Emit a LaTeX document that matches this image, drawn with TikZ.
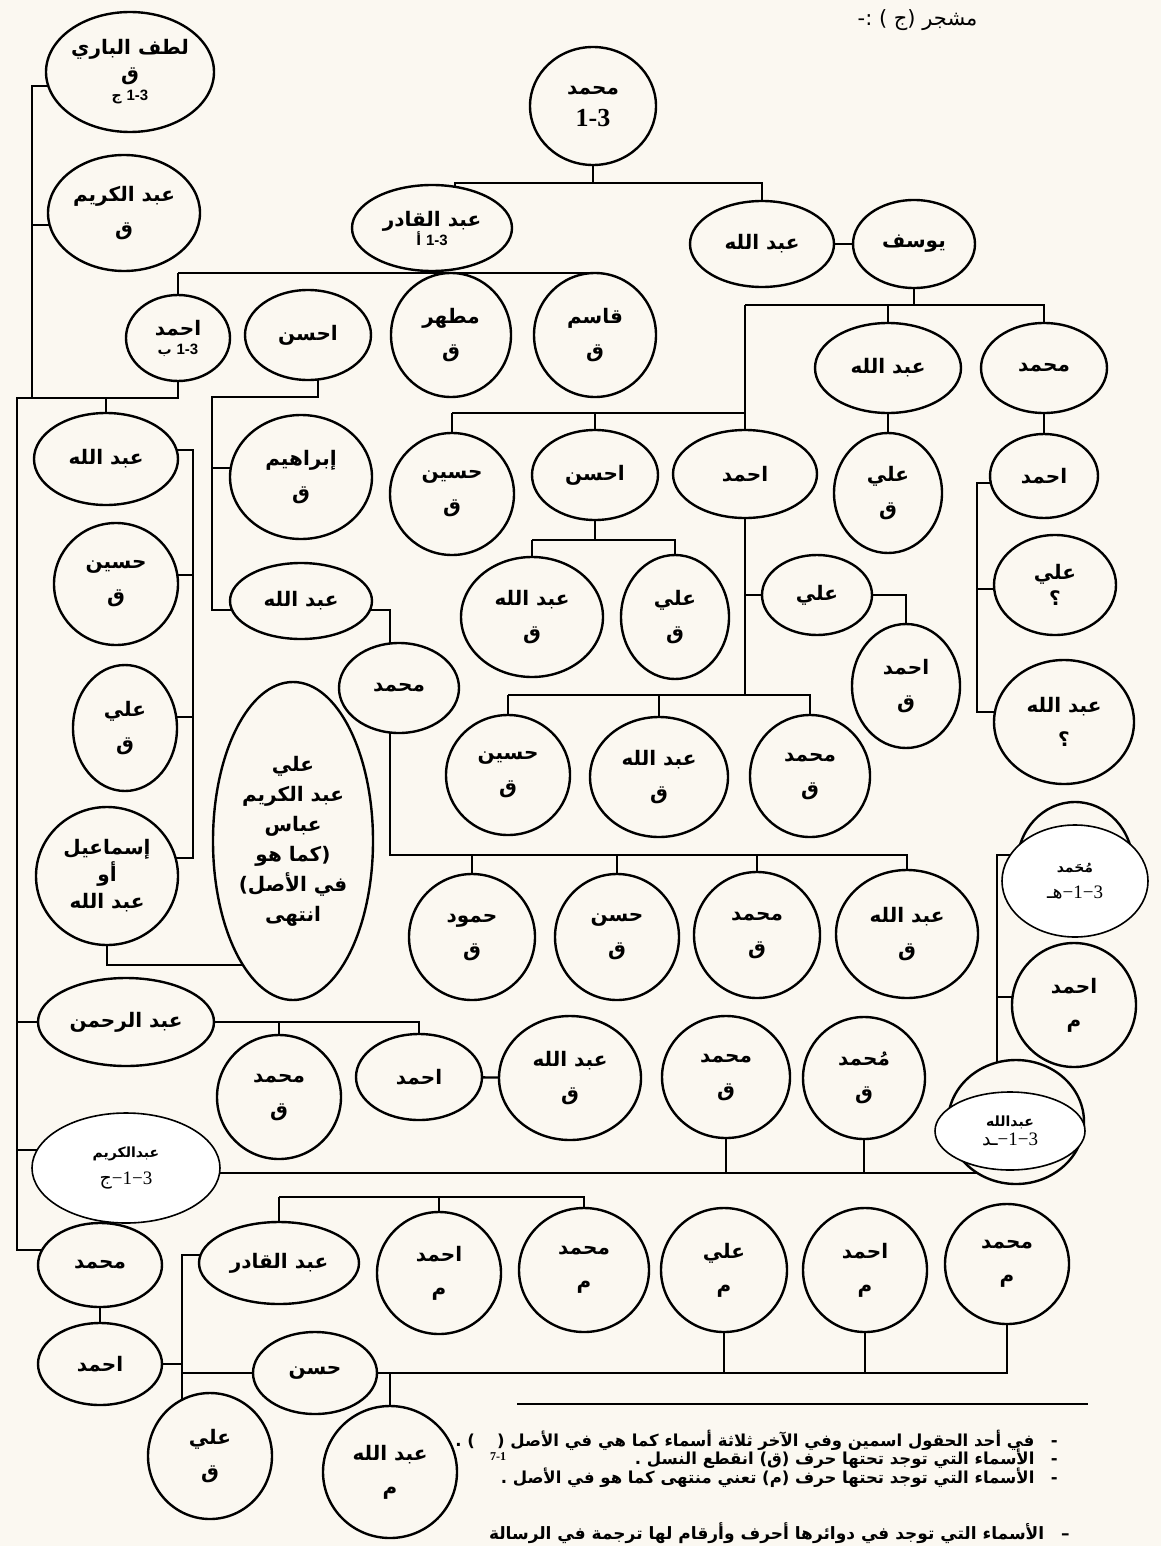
\documentclass[tikz,border=0pt]{standalone}
\usepackage{fontspec}
\setmainfont{Liberation Serif}
\newfontfamily\arb[Script=Arabic]{DejaVu Sans}
\newfontfamily\lsans{Liberation Sans}
\TeXXeTstate=1
\usetikzlibrary{shapes.geometric,backgrounds}
\definecolor{bg}{RGB}{251,248,241}
\newcommand\myR[1]{\beginR #1\endR}
\newcommand\nmfont{\arb\bfseries\fontsize{20}{34}\selectfont}
\newcommand\smfont{\arb\bfseries\fontsize{14}{15}\selectfont}
\newcommand\wfont{\arb\bfseries\fontsize{14}{16}\selectfont}
\newcommand\lgfont{\arb\bfseries\fontsize{16.5}{18}\selectfont}
\newcommand\lbl[2]{{\smfont\hbox{#2}\ \hbox{\lsans\bfseries\fontsize{15}{15}\selectfont #1}}}
\tikzset{
  nd/.style 2 args={draw, line width=2.4pt, ellipse, fill=bg, inner sep=0pt,
    minimum width={2*#1pt}, minimum height={2*#2pt}, font=\nmfont, align=center},
  wov/.style 2 args={draw, line width=1.6pt, ellipse, fill=white, inner sep=0pt,
    minimum width={2*#1pt}, minimum height={2*#2pt}, align=center},
  ln/.style={line width=2.4pt},
  under/.style={draw, line width=2.4pt, fill=bg},
  lgnd/.style={anchor=east, inner sep=0pt, font=\lgfont},
}
\begin{document}
\begin{tikzpicture}[x=1pt,y=-1pt]
\useasboundingbox (0,0) rectangle (1161,1546);
% title
\node[anchor=east, font=\arb\fontsize{21}{24}\selectfont] (title) at (981,20) {\myR{مشجر (ج ) :-}};
% nodes
\node[nd={84}{60}] (lutf) at (130,72) {\myR{لطف الباري}\\[-8pt]\myR{ق}\\[-14pt]\lbl{1-3}{ج}};
\node[nd={76}{58}] (karim) at (124,213) {\myR{عبد الكريم}\\\myR{ق}};
\node[nd={63}{59}] (root) at (593,106) {\myR{محمد}\\[-2pt]{\rmfamily\bfseries\fontsize{26}{28}\selectfont 1-3}};
\node[nd={80}{43}] (qadir) at (432,228) {\myR{عبد القادر}\\[-15pt]\lbl{1-3}{أ}};
\node[nd={72}{43}] (abdU) at (762,244) {\myR{عبد الله}};
\node[nd={61}{44}] (yusuf) at (914,244) {\myR{يوسف}};
\node[nd={52}{43}] (ahmB) at (178,338) {\myR{احمد}\\[-15pt]\lbl{1-3}{ب}};
\node[nd={63}{45}] (ahsn1) at (308,335) {\myR{احسن}};
\node[nd={60}{62}] (mut) at (451,335) {\myR{مطهر}\\\myR{ق}};
\node[nd={61}{62}] (qas) at (595,335) {\myR{قاسم}\\\myR{ق}};
\node[nd={73}{45}] (abd2) at (888,368) {\myR{عبد الله}};
\node[nd={63}{45}] (muhR) at (1044,368) {\myR{محمد}};
\node[nd={72}{46}] (abdL) at (106,459) {\myR{عبد الله}};
\node[nd={62}{61}] (husL) at (116,584) {\myR{حسين}\\\myR{ق}};
\node[nd={52}{63}] (aliL) at (125,728) {\myR{علي}\\\myR{ق}};
\node[nd={71}{62}] (ibr) at (301,477) {\myR{إبراهيم}\\\myR{ق}};
\node[nd={71}{38}] (abdM) at (301,601) {\myR{عبد الله}};
\node[nd={60}{45}] (muhM) at (399,688) {\myR{محمد}};
\node[nd={62}{61}] (husM) at (452,494) {\myR{حسين}\\\myR{ق}};
\node[nd={63}{45}] (ahsn2) at (595,475) {\myR{احسن}};
\node[nd={72}{44}] (ahmM) at (745,474) {\myR{احمد}};
\node[nd={54}{60}] (aliQ2) at (888,493) {\myR{علي}\\\myR{ق}};
\node[nd={54}{42}] (ahmR) at (1044,476) {\myR{احمد}};
\node[nd={71}{60}] (abdQM) at (532,617) {\myR{عبد الله}\\\myR{ق}};
\node[nd={54}{62}] (aliQM) at (675,617) {\myR{علي}\\\myR{ق}};
\node[nd={55}{40}] (aliMR) at (817,595) {\myR{علي}};
\node[nd={54}{62}] (ahmQ) at (906,686) {\myR{احمد}\\\myR{ق}};
\node[nd={61}{50}] (aliQm) at (1055,585) {\myR{علي}\\[-8pt]\myR{؟}};
\node[nd={70}{62}] (abdQm) at (1064,722) {\myR{عبد الله}\\\myR{؟}};
\node[nd={62}{60}] (husLow) at (508,775) {\myR{حسين}\\\myR{ق}};
\node[nd={69}{60}] (abdLow) at (659,777) {\myR{عبد الله}\\\myR{ق}};
\node[nd={60}{61}] (muhLow) at (810,776) {\myR{محمد}\\\myR{ق}};
\node[nd={71}{69}] (ism) at (107,876) {\myR{إسماعيل}\\[-7pt]\myR{أو}\\[-7pt]\myR{عبد الله}};
\node[nd={80}{159}] (big) at (293,841) {\myR{علي}\\[-4pt]\myR{عبد الكريم}\\[-4pt]\myR{عباس}\\[-4pt]\myR{(كما هو}\\[-4pt]\myR{في الأصل)}\\[-4pt]\myR{انتهى}};
\node[nd={63}{63}] (hamud) at (472,937) {\myR{حمود}\\\myR{ق}};
\node[nd={62}{63}] (hasan) at (617,937) {\myR{حسن}\\\myR{ق}};
\node[nd={63}{63}] (muhQ) at (757,935) {\myR{محمد}\\\myR{ق}};
\node[nd={71}{64}] (abdQ) at (907,934) {\myR{عبد الله}\\\myR{ق}};
\coordinate (uMuh) at (1075,865);
\draw[under] (uMuh) ellipse [x radius=58pt, y radius=63pt];
\node[wov={73}{56}] (wMuh) at (1075,881) {{\wfont\myR{مُحَمد}}\\[12pt]{\fontsize{19}{20}\selectfont{\arb هـ}−1−3}};
\node[nd={62}{62}] (ahmRm) at (1074,1005) {\myR{احمد}\\\myR{م}};
\coordinate (uAbd) at (1016,1122);
\draw[under] (uAbd) ellipse [x radius=68pt, y radius=62pt];
\node[wov={75}{39}] (wAbd) at (1010,1131) {{\wfont\myR{عبدالله}}\\[3pt]{\fontsize{19}{20}\selectfont{\arb ـد}−1−3}};
\node[nd={88}{44}] (abdRah) at (126,1022) {\myR{عبد الرحمن}};
\node[nd={62}{62}] (muhQ2) at (279,1097) {\myR{محمد}\\\myR{ق}};
\node[nd={63}{43}] (ahmd2) at (419,1077) {\myR{احمد}};
\node[nd={71}{62}] (abdQ2) at (570,1078) {\myR{عبد الله}\\\myR{ق}};
\node[nd={64}{61}] (muhQ3) at (726,1077) {\myR{محمد}\\\myR{ق}};
\node[nd={61}{61}] (mumuhQ) at (864,1078) {\myR{مُحمد}\\\myR{ق}};
\node[wov={94}{55}] (wKarim) at (126,1168) {{\wfont\myR{عبدالكريم}}\\[10pt]{\fontsize{19}{20}\selectfont{\arb ج}−1−3}};
\node[nd={62}{42}] (muhBL) at (100,1265) {\myR{محمد}};
\node[nd={62}{41}] (ahmBL) at (100,1364) {\myR{احمد}};
\node[nd={80}{41}] (qadBL) at (279,1263) {\myR{عبد القادر}};
\node[nd={62}{41}] (hasBL) at (315,1373) {\myR{حسن}};
\node[nd={62}{63}] (aliBL) at (210,1456) {\myR{علي}\\\myR{ق}};
\node[nd={67}{66}] (abdBL) at (390,1472) {\myR{عبد الله}\\\myR{م}};
\node[nd={62}{61}] (ahmM1) at (439,1273) {\myR{احمد}\\\myR{م}};
\node[nd={65}{62}] (muhM1) at (584,1270) {\myR{محمد}\\\myR{م}};
\node[nd={63}{62}] (aliM1) at (724,1270) {\myR{علي}\\\myR{م}};
\node[nd={62}{62}] (ahmM2) at (865,1270) {\myR{احمد}\\\myR{م}};
\node[nd={62}{60}] (muhM2) at (1007,1264) {\myR{محمد}\\\myR{م}};
% legend
\coordinate (rl1) at (517,1404);
\coordinate (rl2) at (1088,1404);
\draw[line width=1.3pt] (rl1) -- (rl2);
\node[lgnd] (lg1) at (1058,1440) {\myR{-\quad في أحد الحقول اسمين وفي الآخر ثلاثة أسماء كما هي في الأصل (\quad\ ) .}};
\node[lgnd] (lg2) at (1058,1459) {\myR{-\quad الأسماء التي توجد تحتها حرف (ق) انقطع النسل .}};
\node[lgnd] (lg3) at (1058,1478) {\myR{-\quad الأسماء التي توجد تحتها حرف (م) تعني منتهى كما هو في الأصل .}};
\node[font=\rmfamily\bfseries\fontsize{12}{13}\selectfont] (sub) at (498,1457) {7-1};
\node[anchor=east, inner sep=0pt, font=\arb\bfseries\fontsize{17}{19}\selectfont] (lg4) at (1070,1533) {\myR{–\quad الأسماء التي توجد في دوائرها أحرف وأرقام لها ترجمة في الرسالة}};
% connectors
\begin{scope}[on background layer]
\fill[bg] (0,0) rectangle (1161,1546);
\begin{scope}[ln]
\draw (lutf |- 0,86) -- (32,86) -- (32,398);
\draw (karim |- 0,225) -- (32,225);
\draw (root) -- (root |- 0,183);
\draw (qadir -| 455,0) -- (455,183) -- (abdU |- 0,183) -- (abdU);
\draw (abdU) -- (yusuf);
\draw (yusuf) -- (yusuf |- 0,305);
\draw (ahmM |- 0,305) -- (muhR |- 0,305) -- (muhR);
\draw (abd2 |- 0,305) -- (abd2);
\draw (muhR) -- (ahmR);
\draw (abd2) -- (aliQ2);
\draw (qadir) -- (qadir |- 0,273);
\draw (ahmB |- 0,273) -- (qas |- 0,273) -- (qas);
\draw (ahmB |- 0,273) -- (ahmB);
\draw (mut) -- (mut |- 0,273);
\draw (ahmB) -- (ahmB |- 0,398) -- (17,398) -- (17,1250) -- (muhBL |- 0,1250);
\draw (abdL |- 0,398) -- (abdL);
\draw (abdL |- 0,450) -- (193,450) -- (193,858) -- (ism |- 0,858);
\draw (193,575) -- (husL |- 0,575);
\draw (193,717) -- (aliL |- 0,717);
\draw (ism) -- (ism |- 0,965) -- (big |- 0,965);
\draw (17,1022) -- (abdRah);
\draw (17,1150) -- (wKarim |- 0,1150);
\draw (wKarim |- 0,1173) -- (wAbd |- 0,1173) -- (wAbd);
\draw (muhQ3) -- (muhQ3 |- 0,1173);
\draw (mumuhQ) -- (mumuhQ |- 0,1173);
\draw (ahsn1 -| 318,273) -- (318,397) -- (212,397) -- (212,610) -- (abdM |- 0,610);
\draw (212,468) -- (ibr |- 0,468);
\draw (abdM |- 0,610) -- (390,610) -- (390,855) -- (abdQ |- 0,855) -- (abdQ);
\draw (hamud |- 0,855) -- (hamud);
\draw (hasan |- 0,855) -- (hasan);
\draw (muhQ |- 0,855) -- (muhQ);
\draw (ahmM |- 0,305) -- (ahmM) -- (ahmM |- 0,695);
\draw (husM |- 0,413) -- (ahmM |- 0,413);
\draw (husM |- 0,413) -- (husM);
\draw (ahsn2 |- 0,413) -- (ahsn2);
\draw (ahsn2) -- (ahsn2 |- 0,540);
\draw (abdQM |- 0,540) -- (aliQM |- 0,540) -- (aliQM);
\draw (abdQM |- 0,540) -- (abdQM);
\draw (husLow |- 0,695) -- (muhLow |- 0,695) -- (muhLow);
\draw (husLow |- 0,695) -- (husLow);
\draw (abdLow |- 0,695) -- (abdLow);
\draw (ahmM |- aliMR) -- (aliMR) -- (ahmQ |- aliMR) -- (ahmQ);
\draw (ahmR |- 0,483) -- (977,483) -- (977,712) -- (abdQm |- 0,712);
\draw (977,589) -- (aliQm |- 0,589);
\draw (wMuh |- 0,855) -- (997,855) -- (997,1122) -- (uAbd);
\draw (997,997) -- (ahmRm |- 0,997);
\draw (abdRah) -- (ahmd2 |- abdRah) -- (ahmd2);
\draw (muhQ2 |- abdRah) -- (muhQ2);
\draw (ahmd2) -- (abdQ2);
\draw (muhBL) -- (muhBL |- ahmBL);
\draw (ahmBL) -- (ahmBL -| 182,0);
\draw (qadBL |- 0,1255) -- (182,1255) -- (182,1440);
\draw (182,1373) -- (hasBL);
\draw (hasBL) -- (muhM2 |- hasBL) -- (muhM2);
\draw (abdBL |- hasBL) -- (abdBL);
\draw (aliM1 |- hasBL) -- (aliM1);
\draw (ahmM2 |- hasBL) -- (ahmM2);
\draw (qadBL |- 0,1197) -- (muhM1 |- 0,1197) -- (muhM1);
\draw (qadBL |- 0,1197) -- (qadBL);
\draw (ahmM1 |- 0,1197) -- (ahmM1);
\end{scope}
\end{scope}
\end{tikzpicture}
\end{document}
